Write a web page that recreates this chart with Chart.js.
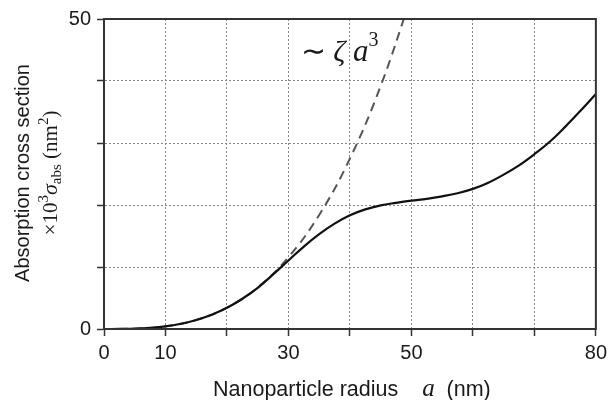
<!DOCTYPE html>
<html>
<head>
<meta charset="utf-8">
<script src="https://cdn.jsdelivr.net/npm/chart.js@4/dist/chart.umd.min.js"></script>
<style>
  html, body { margin: 0; padding: 0; background: #fff; }
  #wrap { width: 612px; height: 400px; }
</style>
</head>
<body>
<div id="wrap"><canvas id="absChart" width="612" height="400"></canvas></div>
<script>
// radius a (nm) and absorption cross section (x10^3 sigma_abs, nm^2)
const solidRadius = [0, 2.5, 5, 7.5, 10, 12.5, 15, 17.5, 20, 22.5, 25, 27.5, 30, 32.5, 35, 37.5, 40, 42.5, 45, 47.5, 50, 52.5, 55, 57.5, 60, 62.5, 65, 67.5, 70, 72.5, 75, 77.5, 80];
const solidSigma  = [0, 0.01, 0.05, 0.18, 0.42, 0.84, 1.45, 2.3, 3.42, 4.88, 6.65, 8.8, 11.05, 13.3, 15.3, 17.0, 18.35, 19.3, 19.95, 20.35, 20.7, 21.0, 21.4, 21.9, 22.6, 23.6, 24.9, 26.4, 28.2, 30.2, 32.6, 35.2, 37.9];

// small-particle limit  ~ zeta a^3
const dashedRadius = [0, 5, 10, 15, 20, 25, 30, 35, 40, 45, 50];
const dashedSigma  = [0, 0.05, 0.43, 1.45, 3.44, 6.7, 11.6, 18.4, 27.5, 39.2, 53.7];

const xTickLabels = [0, 10, 30, 50, 80];
const yTickLabels = [0, 50];

const SANS = '"Liberation Sans", Arial, Helvetica, sans-serif';
const SERIF = '"Liberation Serif", "Times New Roman", serif';

const toPoints = (xs, ys) => xs.map((x, i) => ({ x: x, y: ys[i] }));

// draws a row of text pieces with different fonts on baseline y
function drawRuns(ctx, runs, x, y, align) {
  let total = 0;
  runs.forEach(r => { ctx.font = r.font; r.w = ctx.measureText(r.text).width; total += r.w; });
  let cx = align === 'center' ? x - total / 2 : x;
  ctx.textAlign = 'left';
  ctx.textBaseline = 'alphabetic';
  runs.forEach(r => {
    ctx.font = r.font;
    ctx.fillText(r.text, cx, y - (r.dy || 0));
    cx += r.w;
  });
}

const framePlugin = {
  id: 'frame',
  afterDraw(chart) {
    const { ctx, chartArea: a, scales } = chart;
    ctx.save();
    ctx.strokeStyle = '#333';
    ctx.lineWidth = 2;
    ctx.strokeRect(a.left, a.top, a.right - a.left, a.bottom - a.top);

    ctx.fillStyle = '#1a1a1a';
    // x axis title
    drawRuns(ctx, [
      { text: 'Nanoparticle radius', font: '21.5px ' + SANS },
      { text: '    ', font: '21.5px ' + SANS },
      { text: 'a', font: 'italic 25px ' + SERIF },
      { text: '  (nm)', font: '21.5px ' + SANS }
    ], 213, 396, 'left');

    // y axis title, two lines rotated
    ctx.save();
    ctx.translate(29, 173);
    ctx.rotate(-Math.PI / 2);
    drawRuns(ctx, [{ text: 'Absorption cross section', font: '20px ' + SANS }], 0, 0, 'center');
    ctx.restore();

    ctx.save();
    ctx.translate(57, 173);
    ctx.rotate(-Math.PI / 2);
    drawRuns(ctx, [
      { text: '\u00d710', font: '21px ' + SERIF },
      { text: '3', font: '15px ' + SERIF, dy: 9 },
      { text: '\u03c3', font: 'italic 22px ' + SERIF },
      { text: 'abs', font: '15px ' + SERIF, dy: -4 },
      { text: ' (nm', font: '21px ' + SERIF },
      { text: '2', font: '15px ' + SERIF, dy: 9 },
      { text: ')', font: '21px ' + SERIF }
    ], 0, 0, 'center');
    ctx.restore();

    // ~ zeta a^3 label
    const lx = scales.x.getPixelForValue(32);
    const ly = scales.y.getPixelForValue(43.3);
    drawRuns(ctx, [
      { text: '\u223c ', font: '30px ' + SERIF },
      { text: '\u03b6 ', font: 'italic 30px ' + SERIF },
      { text: 'a', font: 'italic 31px ' + SERIF },
      { text: '3', font: '20px ' + SERIF, dy: 15 }
    ], lx, ly, 'left');
    ctx.restore();
  }
};

new Chart(document.getElementById('absChart').getContext('2d'), {
  type: 'line',
  data: {
    datasets: [
      {
        label: 'exact',
        data: toPoints(solidRadius, solidSigma),
        borderColor: '#111',
        borderWidth: 2.2,
        pointRadius: 0,
        fill: false,
        tension: 0.4
      },
      {
        label: 'zeta a^3',
        data: toPoints(dashedRadius, dashedSigma),
        borderColor: '#555',
        borderWidth: 2,
        borderDash: [9, 6],
        pointRadius: 0,
        fill: false,
        tension: 0.4
      }
    ]
  },
  options: {
    responsive: false,
    animation: false,
    events: [],
    layout: { padding: { top: 19, right: 12, left: 0, bottom: 0 } },
    plugins: { legend: { display: false }, tooltip: { enabled: false } },
    scales: {
      x: {
        type: 'linear', min: 0, max: 80,
        afterFit: s => { s.height = 71; },
        ticks: {
          stepSize: 10, autoSkip: false, maxRotation: 0, padding: 5,
          color: '#1a1a1a', font: { family: SANS, size: 20 },
          callback: v => xTickLabels.includes(v) ? String(v) : ''
        },
        grid: { color: '#888', lineWidth: 1, tickLength: 7, tickColor: '#333', tickWidth: 1.5 },
        border: { display: true, color: '#333', width: 2, dash: [2, 2] }
      },
      y: {
        type: 'linear', min: 0, max: 50,
        afterFit: s => { s.width = 104; },
        ticks: {
          stepSize: 10, padding: 6,
          color: '#1a1a1a', font: { family: SANS, size: 20 },
          callback: v => yTickLabels.includes(v) ? String(v) : ''
        },
        grid: { color: '#888', lineWidth: 1, tickLength: 7, tickColor: '#333', tickWidth: 1.5 },
        border: { display: true, color: '#333', width: 2, dash: [2, 2] }
      }
    }
  },
  plugins: [framePlugin]
});
</script>
</body>
</html>
